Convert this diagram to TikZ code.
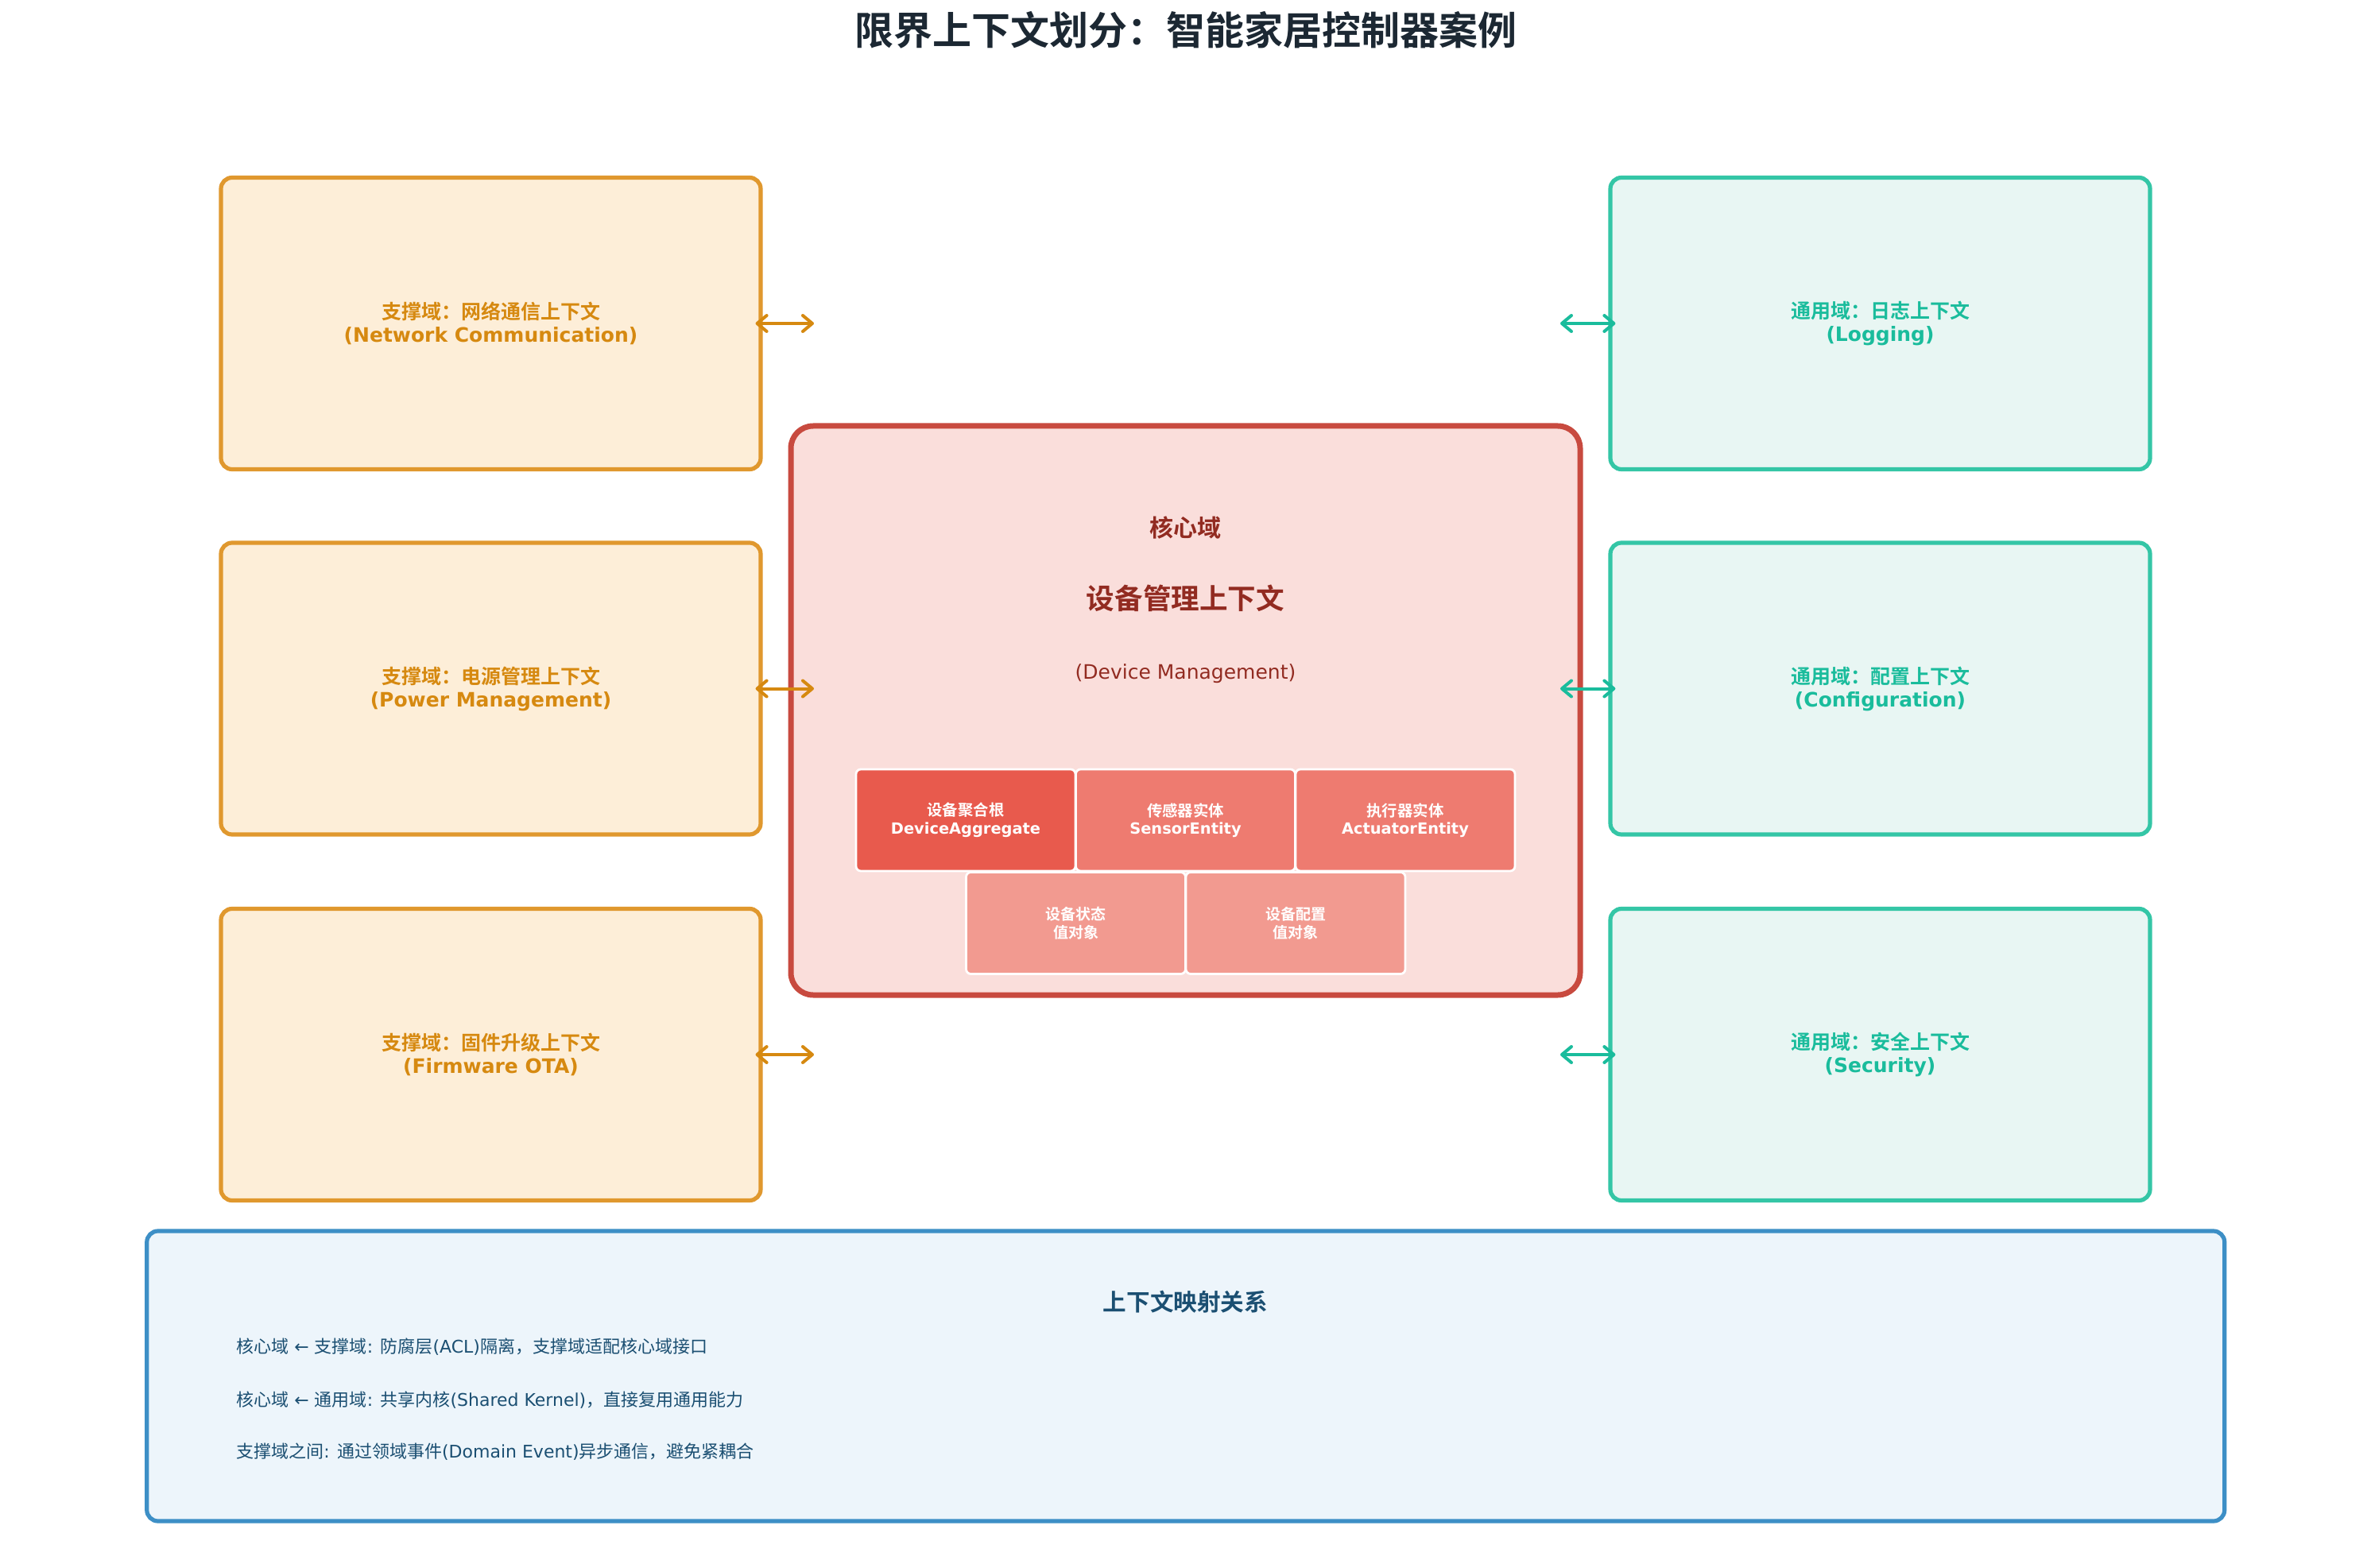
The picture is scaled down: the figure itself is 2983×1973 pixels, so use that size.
\documentclass[tikz,border=0pt]{standalone}
\usepackage{fontspec}
\setmainfont{DejaVu Sans}
\newfontfamily\cjk{Noto Sans CJK SC}[BoldFont={Noto Sans CJK SC Bold}]
\usetikzlibrary{arrows.meta}
\definecolor{sfill}{HTML}{FDEED8}
\definecolor{sborder}{HTML}{E0982E}
\definecolor{stext}{HTML}{D68910}
\definecolor{gfill}{HTML}{E8F6F3}
\definecolor{gborder}{HTML}{34C6A6}
\definecolor{gtext}{HTML}{1ABC9C}
\definecolor{cfill}{HTML}{FADEDB}
\definecolor{cborder}{HTML}{C84A3F}
\definecolor{ctext}{HTML}{922B21}
\definecolor{eone}{HTML}{E85A4D}
\definecolor{etwo}{HTML}{EE7B70}
\definecolor{ethree}{HTML}{F29A90}
\definecolor{bfill}{HTML}{EDF5FB}
\definecolor{bborder}{HTML}{3D8FC6}
\definecolor{btext}{HTML}{1B4F72}
\definecolor{titlec}{HTML}{1C2833}
\begin{document}
\begin{tikzpicture}[x=0.5pt,y=-0.5pt,
  ctxbox/.style={line width=2.6pt, rounded corners=7pt, minimum width=339.5pt,
    minimum height=183.5pt, font=\bfseries\fontsize{12.5}{14.5}\selectfont, align=center, inner sep=0pt},
  sbox/.style={ctxbox, draw=sborder, fill=sfill, text=stext},
  gbox/.style={ctxbox, draw=gborder, fill=gfill, text=gtext},
  corebox/.style={draw=cborder, fill=cfill, line width=3.5pt, rounded corners=14pt,
    minimum width=496.5pt, minimum height=358pt, inner sep=0pt},
  ent/.style={draw=white, line width=1.4pt, rounded corners=3pt, minimum width=138pt,
    minimum height=64pt, text=white, font=\bfseries\fontsize{9.7}{11.2}\selectfont, align=center, inner sep=0pt},
  linkarrow/.style={line width=2pt, line cap=round, arrows={Straight Barb[length=6pt,width=10pt,round]-Straight Barb[length=6pt,width=10pt,round]}},
  oarr/.style={linkarrow, draw=stext},
  garr/.style={linkarrow, draw=gtext},
  maptext/.style={anchor=west, text=btext, font=\fontsize{11}{13}\selectfont, inner sep=0pt}
]
\useasboundingbox[fill=white] (0,0) rectangle (2983,1973);

% title
\node[text=titlec, font=\cjk\bfseries\fontsize{24.5}{27}\selectfont] (title) at (1491.5,38) {限界上下文划分：智能家居控制器案例};

% supporting domains
\node[sbox] (s1) at (617.5,407) {{\cjk 支撑域：网络通信上下文}\\(Network Communication)};
\node[sbox] (s2) at (617.5,866.5) {{\cjk 支撑域：电源管理上下文}\\(Power Management)};
\node[sbox] (s3) at (617.5,1327) {{\cjk 支撑域：固件升级上下文}\\(Firmware OTA)};

% generic domains
\node[gbox] (g1) at (2365.5,407) {{\cjk 通用域：日志上下文}\\(Logging)};
\node[gbox] (g2) at (2365.5,866.5) {{\cjk 通用域：配置上下文}\\(Configuration)};
\node[gbox] (g3) at (2365.5,1327) {{\cjk 通用域：安全上下文}\\(Security)};

% core
\node[corebox] (core) at (1491.5,894) {};
\node[text=ctext, font=\cjk\bfseries\fontsize{15}{17}\selectfont] (coretitle) at (1491.5,664) {核心域};
\node[text=ctext, font=\cjk\bfseries\fontsize{17.8}{20}\selectfont] (corename) at (1491.5,753) {设备管理上下文};
\node[text=ctext, font=\fontsize{12.5}{14}\selectfont] (coreen) at (1491.5,848) {(Device Management)};

\node[ent, fill=eone] (agg) at (1215,1032) {{\cjk 设备聚合根}\\DeviceAggregate};
\node[ent, fill=etwo] (sensor) at (1491.5,1032) {{\cjk 传感器实体}\\SensorEntity};
\node[ent, fill=etwo] (act) at (1768,1032) {{\cjk 执行器实体}\\ActuatorEntity};
\node[ent, fill=ethree, font=\cjk\bfseries\fontsize{9.5}{11.5}\selectfont] (vstate) at (1353.5,1161.5) {设备状态\\值对象};
\node[ent, fill=ethree, font=\cjk\bfseries\fontsize{9.5}{11.5}\selectfont] (vconf) at (1630,1161.5) {设备配置\\值对象};

% arrows
\coordinate (sa1) at (1024,407);
\coordinate (sa2) at (1024,866.5);
\coordinate (sa3) at (1024,1327);
\coordinate (ga1) at (1963,407);
\coordinate (ga2) at (1963,866.5);
\coordinate (ga3) at (1963,1327);
\draw[oarr] ([xshift=-4.5pt]s1.east) -- (sa1);
\draw[oarr] ([xshift=-4.5pt]s2.east) -- (sa2);
\draw[oarr] ([xshift=-4.5pt]s3.east) -- (sa3);
\draw[garr] ([xshift=4.5pt]g1.west) -- (ga1);
\draw[garr] ([xshift=4.5pt]g2.west) -- (ga2);
\draw[garr] ([xshift=4.5pt]g3.west) -- (ga3);

% context map
\node[draw=bborder, fill=bfill, line width=2.6pt, rounded corners=7pt,
  minimum width=1307pt, minimum height=182.5pt, inner sep=0pt] (map) at (1491.75,1731.5) {};
\node[text=btext, font=\cjk\bfseries\fontsize{14.8}{17}\selectfont] (maptitle) at (1491.5,1638) {上下文映射关系};
\node[maptext] (m1) at (297,1695) {{\cjk 核心域} ← {\cjk 支撑域}: {\cjk 防腐层}(ACL){\cjk 隔离，支撑域适配核心域接口}};
\node[maptext] (m2) at (297,1762) {{\cjk 核心域} ← {\cjk 通用域}: {\cjk 共享内核}(Shared Kernel){\cjk ，直接复用通用能力}};
\node[maptext] (m3) at (297,1827) {{\cjk 支撑域之间}: {\cjk 通过领域事件}(Domain Event){\cjk 异步通信，避免紧耦合}};
\end{tikzpicture}
\end{document}
